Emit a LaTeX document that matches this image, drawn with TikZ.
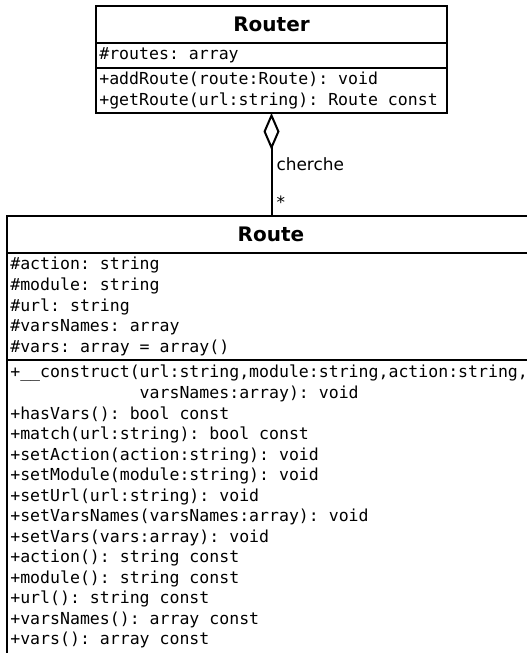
\documentclass[tikz,border=0pt]{standalone}
\usepackage{fontspec}
\setmainfont{DejaVu Sans}
\setsansfont{DejaVu Sans}
\setmonofont{DejaVu Sans Mono}
\usetikzlibrary{arrows.meta,positioning}
% monospaced compartments: ~ is one full character cell
\newcommand\monofs{\ttfamily\fontsize{12.4}{15.4}\selectfont\def~{\hspace*{7.465pt}}}

\begin{document}
\begin{tikzpicture}[
  x=0.75pt, y=-0.75pt,
  hd/.style={draw, line width=1.5pt, outer sep=0pt, anchor=north west, inner sep=0pt,
             align=center, text width=#1, minimum height=27.75pt,
             font=\sffamily\bfseries\fontsize{15}{18}\selectfont},
  cmp/.style={draw, line width=1.5pt, outer sep=0pt, align=left, inner xsep=2.5pt,
              inner ysep=0pt, text width=#1, font=\monofs},
  lbl/.style={font=\sffamily\fontsize{12.7}{15}\selectfont, inner sep=3pt},
  agg/.style={{Diamond[open, length=27.75pt, width=12pt]}-, line width=1.5pt},
]
\useasboundingbox (0,0) rectangle (527,653);
\clip (0,0) rectangle (527,653);

%% ---------------- Router ----------------
\node[hd=263.25pt] (rtr) at (96,6) {Router};
\node[cmp=258.25pt, minimum height=18.75pt, below=0pt of rtr] (rtrA) {\#routes:~array};
\node[cmp=258.25pt, minimum height=33.75pt, below=0pt of rtrA] (rtrM)
  {+addRoute(route:Route):~void\\
   +getRoute(url:string):~Route~const};

%% ---------------- Route ----------------
\node[hd=396pt] (rte) at (7,216) {Route};
\node[cmp=391pt, minimum height=80.25pt, below=0pt of rte] (rteA)
  {\#action:~string\\
   \#module:~string\\
   \#url:~string\\
   \#varsNames:~array\\
   \#vars:~array~=~array()};
\node[cmp=391pt, inner ysep=4pt, text depth=300pt, below=0pt of rteA] (rteM)
  {+\_\_construct(url:string,module:string,action:string,\\
   \hphantom{+\_\_construct(}varsNames:array):~void\\
   +hasVars():~bool~const\\
   +match(url:string):~bool~const\\
   +setAction(action:string):~void\\
   +setModule(module:string):~void\\
   +setUrl(url:string):~void\\
   +setVarsNames(varsNames:array):~void\\
   +setVars(vars:array):~void\\
   +action():~string~const\\
   +module():~string~const\\
   +url():~string~const\\
   +varsNames():~array~const\\
   +vars():~array~const};

%% aggregation
\draw[agg] (rtrM.south) -- node[lbl, right, pos=.495]{cherche}
  node[lbl, right, pos=.864]{*} (rtrM.south |- rte.north);

\end{tikzpicture}
\end{document}
